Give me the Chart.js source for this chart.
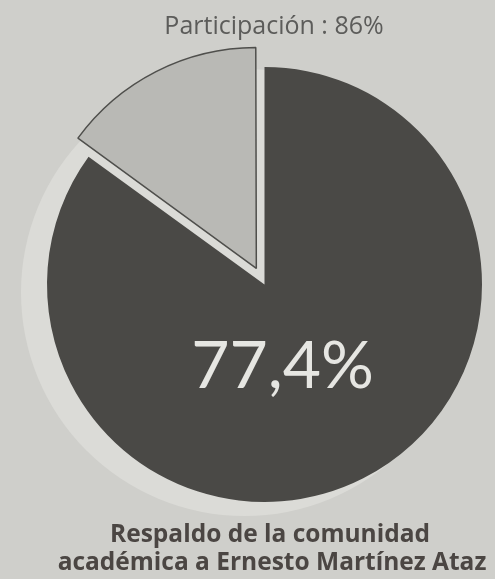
<!DOCTYPE html>
<html>
<head>
<meta charset="utf-8">
<script src="https://cdn.jsdelivr.net/npm/chart.js@4/dist/chart.umd.min.js"></script>
<style>
  html, body { margin: 0; padding: 0; background: #cfcfcb; }
  #wrap { width: 495px; height: 579px; position: relative; }
</style>
</head>
<body>
<div id="wrap"><canvas id="c" width="495" height="579"></canvas></div>
<script>
// ---- data ----
const categories = ["Respaldo", "Resto"];
const values = [85, 15];
const titleText = "Participación : 86%";
const valueLabel = "77,4%";
const captionLines = ["Respaldo de la comunidad", "académica a Ernesto Martínez Ataz"];

const bgPlugin = {
  id: 'bg',
  beforeDraw(chart) {
    const ctx = chart.ctx;
    ctx.save();
    ctx.fillStyle = '#cfcfcb';
    ctx.fillRect(0, 0, chart.width, chart.height);
    ctx.restore();
  },
  beforeDatasetsDraw(chart) {
    const arc = chart.getDatasetMeta(0).data[0];
    if (!arc) return;
    const ctx = chart.ctx;
    ctx.save();
    ctx.fillStyle = '#dbdbd7';
    ctx.beginPath();
    ctx.arc(arc.x - 20, arc.y + 8, arc.outerRadius + 6, 0, Math.PI * 2);
    ctx.fill();
    ctx.restore();
  }
};

const textPlugin = {
  id: 'texts',
  afterDatasetsDraw(chart) {
    const arc = chart.getDatasetMeta(0).data[0];
    const ctx = chart.ctx;
    ctx.save();
    ctx.textAlign = 'center';
    ctx.textBaseline = 'alphabetic';
    // top title
    ctx.fillStyle = '#5c5c5a';
    ctx.font = '400 25px "Open Sans"';
    ctx.fillText(titleText, 274, 33.5);
    // value label inside dark slice
    ctx.fillStyle = '#e6e6e2';
    ctx.font = '400 66px Lato';
    ctx.fillText(valueLabel, arc.x + 18, arc.y + 103.5);
    // caption
    ctx.fillStyle = '#4b4643';
    ctx.font = '700 24.5px "Open Sans"';
    ctx.fillText(captionLines[0], 270, 541.5);
    ctx.fillText(captionLines[1], 272, 570);
    ctx.restore();
  }
};

new Chart(document.getElementById('c'), {
  type: 'pie',
  data: {
    labels: categories,
    datasets: [{
      data: values,
      backgroundColor: ['#4a4946', '#b9b9b5'],
      borderColor: ['#4a4946', '#4f4f4c'],
      borderWidth: [0, 1.5],
      offset: [0, 72],
      clip: false
    }]
  },
  options: {
    responsive: false,
    animation: false,
    radius: 217.5,
    layout: { padding: { left: 34, right: 0, top: 0, bottom: 10 } },
    plugins: {
      legend: { display: false },
      tooltip: { enabled: false },
      title: { display: false }
    }
  },
  plugins: [bgPlugin, textPlugin]
});
</script>
</body>
</html>
